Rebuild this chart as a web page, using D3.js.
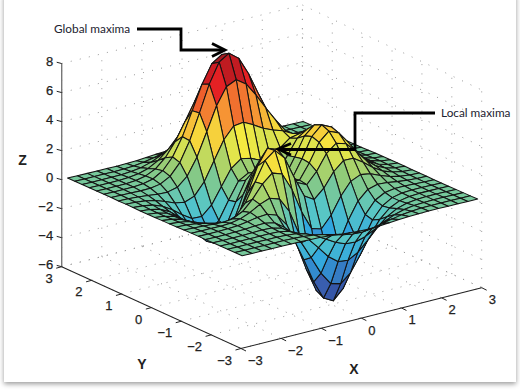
<!DOCTYPE html>
<html><head><meta charset="utf-8">
<style>
html,body{margin:0;padding:0;background:#fff;width:520px;height:391px;overflow:hidden}
#panel{position:absolute;left:4px;top:-6px;width:512px;height:388px;background:#fff;box-shadow:0 2px 5px rgba(0,0,0,.4)}
svg{position:absolute;left:0;top:0}
</style>
<script src="https://cdn.jsdelivr.net/npm/d3@7"></script>
</head><body><div id="panel"></div><svg id="c" width="520" height="391"></svg>
<script>
// Surface heights estimated on a 25x25 grid (coarser than the reference mesh).
const gridX = [-3,-2.75,-2.5,-2.25,-2,-1.75,-1.5,-1.25,-1,-.75,-.5,-.25,0,.25,.5,.75,1,1.25,1.5,1.75,2,2.25,2.5,2.75,3];
const gridY = [-3,-2.75,-2.5,-2.25,-2,-1.75,-1.5,-1.25,-1,-.75,-.5,-.25,0,.25,.5,.75,1,1.25,1.5,1.75,2,2.25,2.5,2.75,3];
const zRows = [
[0,0,0,0,0,0,0,-.01,-.03,-.08,-.14,-.20,-.25,-.25,-.22,-.17,-.11,-.06,-.03,-.01,0,0,0,0,0],
[0,0,0,0,.01,.01,0,-.03,-.10,-.22,-.39,-.56,-.68,-.70,-.61,-.46,-.30,-.17,-.08,-.03,-.01,0,0,0,0],
[0,0,0,.01,.01,.02,0,-.07,-.24,-.53,-.92,-1.31,-1.57,-1.61,-1.41,-1.06,-.69,-.39,-.19,-.08,-.03,-.01,0,0,0],
[0,0,.01,.01,.03,.04,.01,-.12,-.44,-1.00,-1.74,-2.51,-3.02,-3.10,-2.72,-2.05,-1.32,-.74,-.35,-.14,-.05,-.01,0,0,0],
[0,0,.01,.02,.05,.07,.05,-.13,-.59,-1.45,-2.64,-3.88,-4.76,-4.93,-4.35,-3.27,-2.10,-1.15,-.53,-.20,-.06,-.01,0,0,0],
[0,0,.01,.03,.07,.13,.15,.02,-.46,-1.48,-3.01,-4.70,-5.98,-6.33,-5.64,-4.24,-2.69,-1.42,-.61,-.20,-.05,0,.01,0,0],
[0,0,.01,.03,.08,.19,.33,.39,.15,-.68,-2.18,-4.07,-5.68,-6.32,-5.76,-4.31,-2.63,-1.27,-.44,-.07,.04,.05,.03,.01,0],
[0,-.01,-.01,-.01,.03,.17,.45,.84,1.10,.88,-.14,-1.85,-3.61,-4.61,-4.40,-3.23,-1.74,-.56,.08,.27,.23,.13,.06,.02,.01],
[-.01,-.03,-.06,-.10,-.13,-.04,.30,.98,1.86,2.45,2.22,1.00,-.73,-2.02,-2.22,-1.43,-.27,.58,.88,.77,.50,.26,.11,.04,.01],
[-.02,-.05,-.12,-.26,-.42,-.51,-.28,.49,1.78,3.09,3.63,2.94,1.40,0,-.41,.21,1.18,1.79,1.78,1.35,.82,.41,.18,.06,.02],
[-.03,-.08,-.20,-.44,-.80,-1.16,-1.21,-.60,.80,2.49,3.55,3.31,2.00,.70,.39,1.14,2.20,2.76,2.56,1.88,1.12,.56,.24,.09,.03],
[-.03,-.10,-.27,-.60,-1.14,-1.78,-2.16,-1.84,-.57,1.23,2.56,2.63,1.58,.53,.48,1.50,2.76,3.37,3.09,2.25,1.34,.67,.28,.10,.03],
[-.04,-.11,-.30,-.69,-1.33,-2.14,-2.77,-2.71,-1.65,.06,1.48,1.75,.98,.19,.38,1.57,2.94,3.58,3.27,2.37,1.41,.70,.30,.11,.03],
[-.04,-.11,-.29,-.68,-1.32,-2.16,-2.87,-2.98,-2.15,-.65,.68,1.06,.52,-.03,.28,1.47,2.76,3.36,3.06,2.22,1.32,.66,.28,.10,.03],
[-.03,-.09,-.25,-.57,-1.12,-1.85,-2.49,-2.64,-2.00,-.76,.39,.79,.46,.09,.37,1.34,2.38,2.83,2.56,1.85,1.09,.55,.23,.08,.03],
[-.02,-.07,-.18,-.42,-.82,-1.33,-1.76,-1.78,-1.16,-.05,1.04,1.55,1.42,1.12,1.17,1.65,2.17,2.32,1.99,1.40,.82,.41,.17,.06,.02],
[-.01,-.04,-.11,-.25,-.48,-.74,-.86,-.60,.23,1.51,2.80,3.59,3.69,3.34,2.94,2.66,2.44,2.09,1.58,1.04,.58,.28,.11,.04,.01],
[-.01,-.02,-.06,-.12,-.20,-.22,-.05,.55,1.70,3.29,4.92,6.07,6.39,5.94,5.02,3.97,2.97,2.09,1.35,.79,.41,.19,.07,.03,.01],
[0,-.01,-.02,-.03,-.01,.11,.48,1.27,2.61,4.37,6.19,7.54,7.99,7.48,6.25,4.72,3.25,2.05,1.19,.62,.29,.12,.05,.02,0],
[0,0,0,.01,.07,.24,.65,1.43,2.67,4.29,5.96,7.22,7.68,7.20,5.99,4.45,2.96,1.78,.96,.47,.21,.08,.03,.01,0],
[0,0,.01,.02,.08,.23,.55,1.16,2.10,3.31,4.56,5.51,5.86,5.50,4.57,3.37,2.21,1.29,.68,.32,.13,.05,.02,.01,0],
[0,0,.01,.02,.06,.16,.36,.74,1.32,2.07,2.84,3.43,3.65,3.43,2.84,2.09,1.36,.79,.41,.19,.08,.03,.01,0,0],
[0,0,0,.01,.03,.08,.19,.39,.69,1.07,1.47,1.78,1.89,1.77,1.47,1.08,.70,.40,.21,.09,.04,.01,0,0,0],
[0,0,0,.01,.01,.04,.08,.17,.30,.47,.64,.77,.82,.77,.64,.47,.30,.17,.09,.04,.02,.01,0,0,0],
[0,0,0,0,.01,.01,.03,.06,.11,.17,.23,.28,.30,.28,.23,.17,.11,.06,.03,.01,.01,0,0,0,0]
];
const xTicks = [-3,-2,-1,0,1,2,3];
const yTicks = [-3,-2,-1,0,1,2,3];
const zTicks = [-6,-4,-2,0,2,4,6,8];
const colorStops = [-6.55,-4.72,-2.89,-1.06,.78,2.6,4.44,6.27,8.1];
const colorRange = ['#2e4a9e','#3a5fb0','#2fa5e0','#55c6c9','#8fca7a','#f6eb3f','#f68f33','#e31b23','#8b1a1f'];

const svg = d3.select('#c');
const color = d3.scaleLinear().domain(colorStops).range(colorRange).clamp(true);
const sans = '"Liberation Sans",Arial,sans-serif';

// box projection
const bxX = d3.scaleLinear([-3,3],[-120.35,120.35]), byX = d3.scaleLinear([-3,3],[30.4,-30.4]);
const bxY = d3.scaleLinear([-3,3],[89.65,-89.65]),  byY = d3.scaleLinear([-3,3],[40.9,-40.9]);
const bz = d3.scaleLinear([-6,8],[0,1]);
function box(X,Y,Z){
  const h = 14.316 - 0.027*X + 0.038*Y;
  return [271.7+bxX(X)+bxY(Y), 277.2+byX(X)+byY(Y) - bz(Z)*14*h];
}
// surface projection
const sxX = d3.scaleLinear([-3,3],[-117.75,117.75]), syX = d3.scaleLinear([-3,3],[28.35,-28.35]);
const sxY = d3.scaleLinear([-3,3],[87.3,-87.3]),    syY = d3.scaleLinear([-3,3],[38.85,-38.85]);
const sz = d3.scaleLinear([0,8],[0,-116]);
const surf = (X,Y,Z)=>[272.6+sxX(X)+sxY(Y), 188.6+syX(X)+syY(Y)+sz(Z)];

const line = d3.line();
// dotted grid
const gGrid = svg.append('g').attr('fill','none').attr('stroke','#999').attr('stroke-width',1).attr('stroke-dasharray','1 8.3');
const seg = (a,b)=>gGrid.append('path').attr('d',line([a,b]));
zTicks.forEach(z=>{ seg(box(-3,3,z),box(3,3,z)); seg(box(3,3,z),box(3,-3,z)); });
xTicks.forEach(x=>{ seg(box(x,3,-6),box(x,3,8)); seg(box(x,3,-6),box(x,-3,-6)); });
yTicks.forEach(y=>{ seg(box(3,y,-6),box(3,y,8)); seg(box(-3,y,-6),box(3,y,-6)); });

// axes
const gAx = svg.append('g').attr('fill','none');
gAx.append('path').attr('d',line([box(-3,3,-6),box(-3,-3,-6),box(3,-3,-6)])).attr('stroke','#222').attr('stroke-width',1.1);
gAx.append('path').attr('d',line([box(-3,3,-6),box(-3,3,8)])).attr('stroke','#777').attr('stroke-width',1.4);
const label = (x,y,t,anchor)=>svg.append('text').attr('x',x).attr('y',y).attr('text-anchor',anchor)
  .attr('dominant-baseline','central').attr('font-family',sans).attr('font-size',13).attr('fill','#222').attr('stroke','#222').attr('stroke-width',.25).text(t);
const fmt = v=>String(v).replace('-','\u2212');
zTicks.forEach(z=>{ const p=box(-3,3,z);
  gAx.append('path').attr('d',line([p,[p[0]-5,p[1]-1.3]])).attr('stroke','#222');
  label(p[0]-8.5,p[1]-2.5,fmt(z),'end'); });
yTicks.forEach(y=>{ const p=box(-3,y,-6);
  gAx.append('path').attr('d',line([p,[p[0]-5.5,p[1]+1.5]])).attr('stroke','#222');
  label(p[0]-9,p[1]+11.5,fmt(y),'end'); });
xTicks.forEach(x=>{ const p=box(x,-3,-6);
  gAx.append('path').attr('d',line([p,[p[0]+5,p[1]+2.5]])).attr('stroke','#222');
  label(p[0]+7,p[1]+12,fmt(x),'start'); });
[['Z',22.5,159.5],['Y',142,364],['X',354,369]].forEach(d=>{
  svg.append('text').attr('x',d[1]).attr('y',d[2]).attr('text-anchor','middle').attr('dominant-baseline','central')
   .attr('font-family',sans).attr('font-weight','bold').attr('font-size',14).attr('fill','#222').text(d[0]); });

// surface, back to front
const gS = svg.append('g').attr('stroke','#141414').attr('stroke-width',1.05).attr('stroke-linejoin','round');
for(let j=gridY.length-2;j>=0;j--){
  for(let i=gridX.length-2;i>=0;i--){
    const zs=[zRows[j][i],zRows[j][i+1],zRows[j+1][i+1],zRows[j+1][i]];
    const pts=[surf(gridX[i],gridY[j],zs[0]),surf(gridX[i+1],gridY[j],zs[1]),surf(gridX[i+1],gridY[j+1],zs[2]),surf(gridX[i],gridY[j+1],zs[3])];
    gS.append('path').attr('d',line(pts)+'Z').attr('fill',color(d3.mean(zs)));
  }
}

// annotations
const ann = svg.append('g').attr('fill','none').attr('stroke','#000').attr('stroke-width',2.8);
ann.append('path').attr('d',line([[137,29],[181,29],[181,50],[224,50]]));
ann.append('path').attr('d',line([[212,43.5],[225,50],[212,56.5]]));
ann.append('path').attr('d',line([[435,113],[355,113],[355,149.5],[279,149.5]]));
ann.append('path').attr('d',line([[291,143.5],[278,149],[291,155]]));
const note=(x,y,t)=>svg.append('text').attr('x',x).attr('y',y).attr('dominant-baseline','central')
  .attr('font-family','Lato,"Open Sans",sans-serif').attr('font-size',11.8).attr('fill','#1c2230').text(t);
note(54,28.5,'Global maxima'); note(441,112.5,'Local maxima');
</script></body></html>
